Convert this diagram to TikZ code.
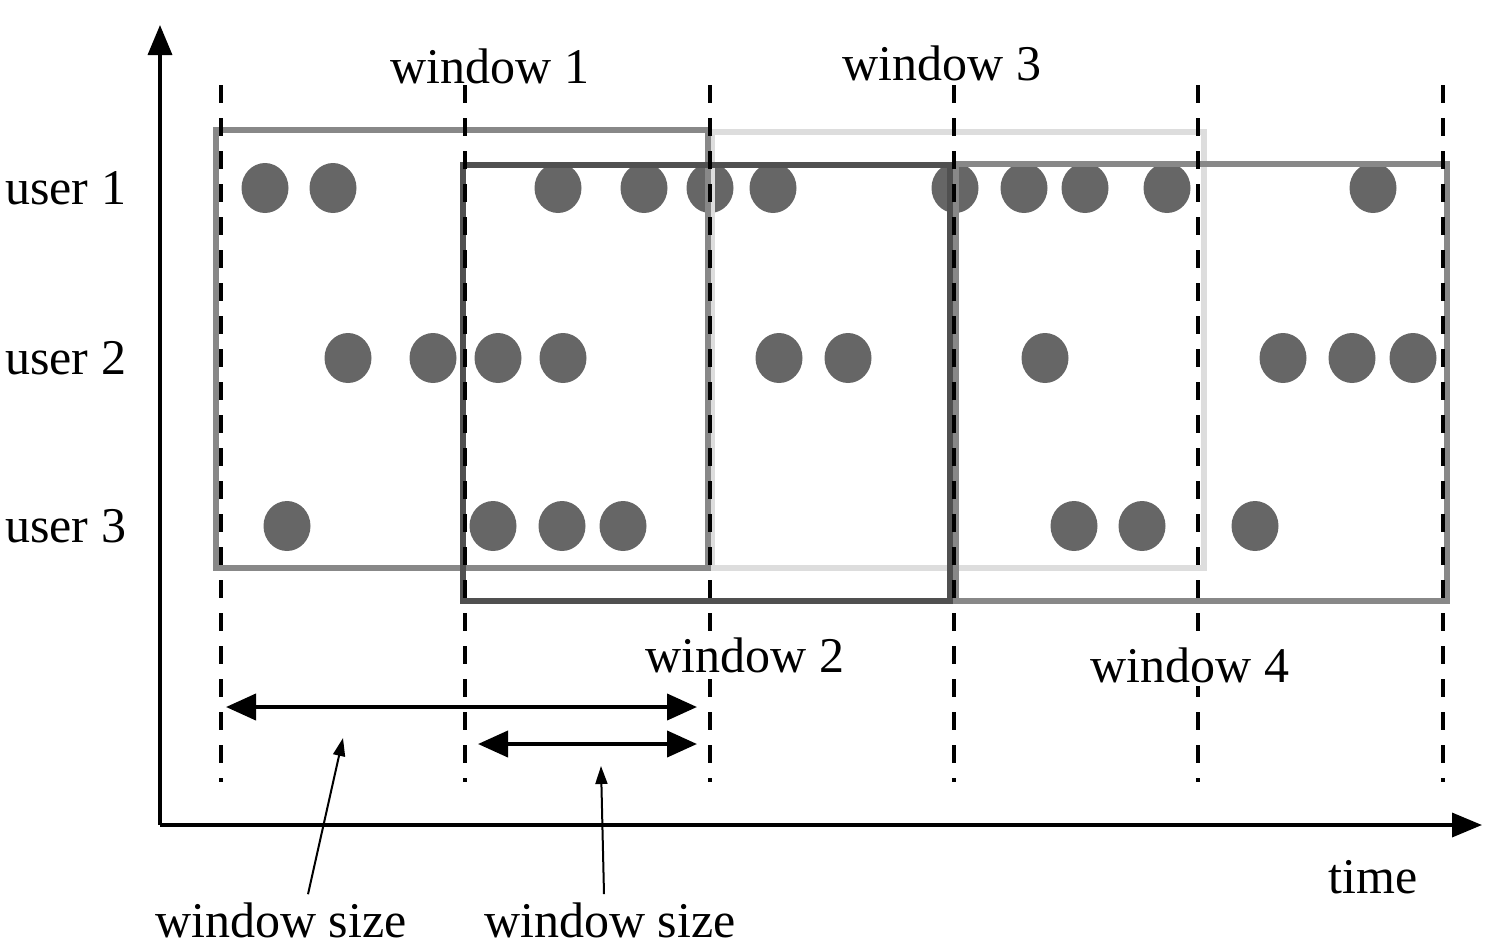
\documentclass[tikz,border=0pt]{standalone}
\usepackage{fontspec}
\setmainfont{Liberation Serif}
\usetikzlibrary{arrows.meta,shapes.geometric}
\definecolor{dotgray}{HTML}{666666}
\definecolor{wmid}{HTML}{888888}
\definecolor{wdark}{HTML}{505050}
\definecolor{wlight}{HTML}{DDDDDD}
\tikzset{
  evt/.style={ellipse, fill=dotgray, minimum width=47pt, minimum height=50pt, inner sep=0pt},
  lbl/.style={inner sep=0pt, font=\fontsize{50}{60}\selectfont},
  wlbl/.style={lbl, fill=white, inner xsep=0pt, inner ysep=3pt},
  winbox/.style={line width=5.5pt},
  tline/.style={line width=3.5pt, dash pattern=on 18pt off 15pt},
  axis/.style={line width=3.5pt, -{Triangle[length=30pt,width=24pt]}},
  span/.style={line width=4pt, {Triangle[length=30pt,width=26pt]}-{Triangle[length=30pt,width=26pt]}},
  ptr/.style={line width=2pt, -{Triangle[length=18pt,width=12pt]}}
}
\begin{document}
\begin{tikzpicture}[x=1pt,y=-1pt]
\useasboundingbox (0,0) rectangle (1488,948);
% axes
\coordinate (O) at (160,825);
\coordinate (Ytop) at (160,25);
\coordinate (Xend) at (1482,825);
\draw[axis] (O) -- (Ytop);
\draw[axis] (O) -- (Xend);
% events
\foreach \x [count=\i] in {265,333,558,644,710,773,955,1024,1085,1167,1373}
  \node[evt] (ua\i) at (\x,188) {};
\foreach \x [count=\i] in {348,433,498,563,779,848,1045,1283,1352,1413}
  \node[evt] (ub\i) at (\x,358) {};
\foreach \x [count=\i] in {287,493,562,623,1074,1142,1255}
  \node[evt] (uc\i) at (\x,526) {};
% windows
\draw[winbox, wlight] (712,132) rectangle (1204,568);
\draw[winbox, wmid] (216,130) rectangle (708,568);
\draw[winbox, wmid] (956,164) rectangle (1447,601);
\draw[winbox, wdark] (463,165) rectangle (950,601);
% time lines
\foreach \x [count=\i] in {221,465,710,954,1198,1443}{
  \coordinate (t\i a) at (\x,85);
  \coordinate (t\i b) at (\x,782);
  \draw[tline] (t\i a) -- (t\i b);
}
% labels
\node[lbl, anchor=west] (l1) at (5,188) {user 1};
\node[lbl, anchor=west] (l2) at (5,358) {user 2};
\node[lbl, anchor=west] (l3) at (5,526) {user 3};
\node[lbl] (w1) at (490,66) {window 1};
\node[lbl] (w3) at (942,63) {window 3};
\node[wlbl] (w2) at (745,655) {window 2};
\node[wlbl] (w4) at (1190,665) {window 4};
\node[lbl] (tm) at (1373,877) {time};
\node[lbl] (ws1) at (281,920) {window size};
\node[lbl] (ws2) at (610,920) {window size};
% spans
\coordinate (s1a) at (226,707);
\coordinate (s1b) at (697,707);
\coordinate (s2a) at (478,744);
\coordinate (s2b) at (697,744);
\draw[span] (s1a) -- (s1b);
\draw[span] (s2a) -- (s2b);
\coordinate (p1) at (343,738);
\coordinate (p2) at (601,766);
\draw[ptr] (ws1.north) ++(27,-8) -- (p1);
\draw[ptr] (ws2.north) ++(-6,-8) -- (p2);
\end{tikzpicture}
\end{document}
